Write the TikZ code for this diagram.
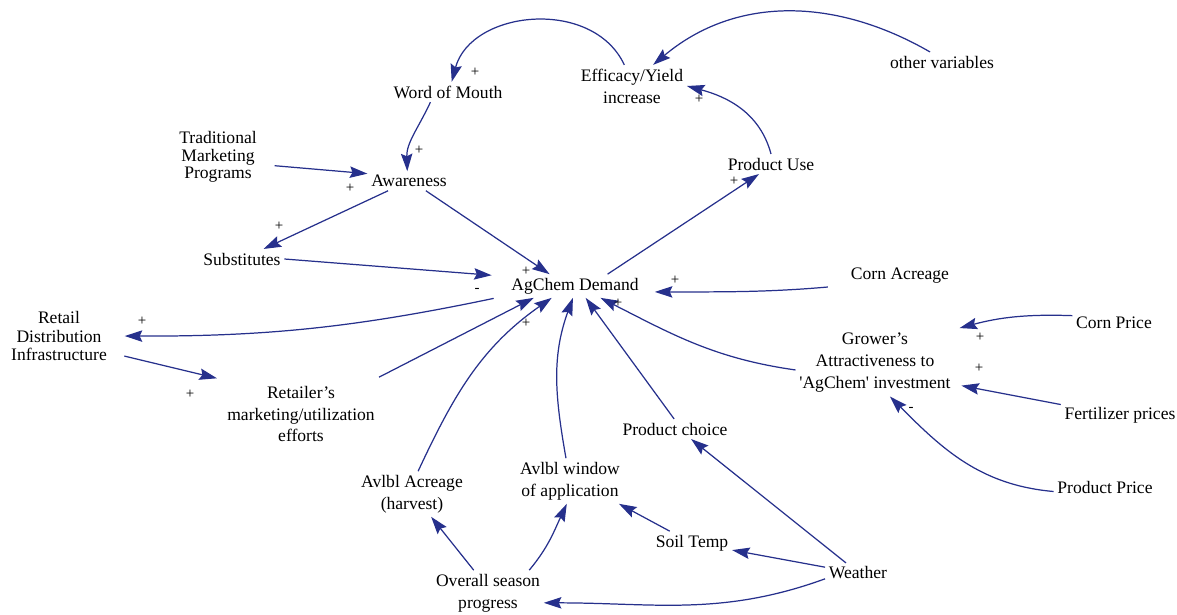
\documentclass[tikz,border=0pt]{standalone}
\usepackage{fontspec}
\setmainfont{Liberation Serif}
\usetikzlibrary{arrows.meta}
\definecolor{linkblue}{RGB}{38,48,140}

\begin{document}
\begin{tikzpicture}[x=0.02cm, y=0.02cm, >={Stealth[length=10pt,width=6.5pt,inset=1.5pt]},
    var/.style={align=center, inner sep=2pt, font=\fontsize{10}{12.5}\selectfont},
    link/.style={->, draw=linkblue, line width=0.7pt},
    sign/.style={inner sep=0pt, font=\fontsize{8.5}{8.5}\selectfont}]
    \useasboundingbox (0,0) rectangle (1177,-615);

    % Variabili
    \node[var] (wom) at (448,-92) {Word of Mouth};
    \node[var] (eff) at (632,-86) {Efficacy/Yield\\increase};
    \node[var] (other) at (942,-62) {other variables};
    \node[var, font=\fontsize{10}{9.8}\selectfont] (tmp) at (218,-157) {Traditional\\Marketing\\Programs};
    \node[var] (aw) at (409,-181) {Awareness};
    \node[var] (pu) at (771,-164) {Product Use};
    \node[var] (subs) at (242,-259) {Substitutes};
    \node[var] (agd) at (575,-286) {AgChem Demand};
    \node[var] (corn) at (900,-276) {Corn Acreage};
    \node[var, font=\fontsize{10}{10.8}\selectfont] (retail) at (59,-336) {Retail\\Distribution\\Infrastructure};
    \node[var] (retl) at (301,-414) {Retailer's\\marketing/utilization\\efforts};
    \node[var] (gro) at (875,-363) {Grower's\\Attractiveness to\\\textquotesingle AgChem\textquotesingle\ investment};
    \node[var] (cprice) at (1114,-323) {Corn Price};
    \node[var] (fert) at (1120,-415) {Fertilizer prices};
    \node[var] (pprice) at (1105,-487) {Product Price};
    \node[var] (pchoice) at (675,-429) {Product choice};
    \node[var] (acre) at (412,-494) {Avlbl Acreage\\(harvest)};
    \node[var] (win) at (570,-481) {Avlbl window\\of application};
    \node[var] (soil) at (692,-543) {Soil Temp};
    \node[var] (weather) at (858,-573) {Weather};
    \node[var] (osp) at (488,-593) {Overall season\\progress};

    % Anelli in alto
    \draw[link] (eff.110) to[out=115,in=75,looseness=1.1] (wom.70);
    \draw[link] (other.140) to[out=150,in=40] (eff.45);
    \draw[link] ([xshift=-10pt]wom.south) to[out=245,in=92] (aw.100);
    \draw[link, shorten <=8pt] (tmp.-10) -- (aw.170);
    \draw[link] (aw.205) -- (subs.25);
    \draw[link] (aw.-30) -- (agd.155);
    \draw[link, shorten >=9pt] (subs.east) -- (agd.172);
    \draw[link] (agd.20) -- (pu.220);
    \draw[link] (pu.north) to[out=105,in=-15] (eff.east);
    \draw[link, shorten <=11pt, shorten >=7pt] (corn.190) to[out=185,in=0] (agd.-5);

    % Distribuzione
    \draw[link, shorten <=8pt, shorten >=8pt] (agd.188) to[bend left=6] (retail.east);
    \draw[link, shorten <=8pt, shorten >=9pt] (retail.-18) -- (retl.155);
    \draw[link, shorten <=6pt] (retl.25) -- (agd.196);

    % Archi dal basso
    \draw[link] (acre.75) to[out=65,in=215] (agd.207);
    \draw[link] (win.100) to[out=100,in=250] (agd.260);
    \draw[link] (pchoice.95) -- (agd.-48);
    \draw[link] (gro.185) to[out=172,in=-27] (agd.-25);

    % Prezzi
    \draw[link, shorten >=3pt] (cprice.170) to[out=178,in=15] (gro.north east);
    \draw[link, shorten >=4pt] (fert.170) -- (gro.-15);
    \draw[link] (pprice.185) to[out=175,in=-45] (gro.-66);

    % Stagione e meteo
    \draw[link] (weather.170) -- (soil.-10);
    \draw[link] (weather.140) -- (pchoice.-32);
    \draw[link] (weather.190) to[out=200,in=0] (osp.-10);
    \draw[link] (soil.152) -- (win.-25);
    \draw[link] (osp.122) -- (acre.-50);
    \draw[link] (osp.29) to[out=50,in=245] (win.262);

    % Polarita
    \node[sign] (s1) at (475,-72) {+};
    \node[sign] (s2) at (419,-150) {+};
    \node[sign] (s3) at (350,-188) {+};
    \node[sign] (s4) at (279,-226) {+};
    \node[sign] (s5) at (526,-271) {+};
    \node[sign] (s6) at (477,-290) {-};
    \node[sign] (s7) at (699,-99) {+};
    \node[sign] (s8) at (734,-181) {+};
    \node[sign] (s9) at (675,-280) {+};
    \node[sign] (s10) at (618,-303) {+};
    \node[sign] (s11) at (142,-321) {+};
    \node[sign] (s12) at (190,-394) {+};
    \node[sign] (s13) at (526,-323) {+};
    \node[sign] (s14) at (980,-337) {+};
    \node[sign] (s15) at (979,-368) {+};
    \node[sign] (s16) at (911,-409) {-};

\end{tikzpicture}
\end{document}
